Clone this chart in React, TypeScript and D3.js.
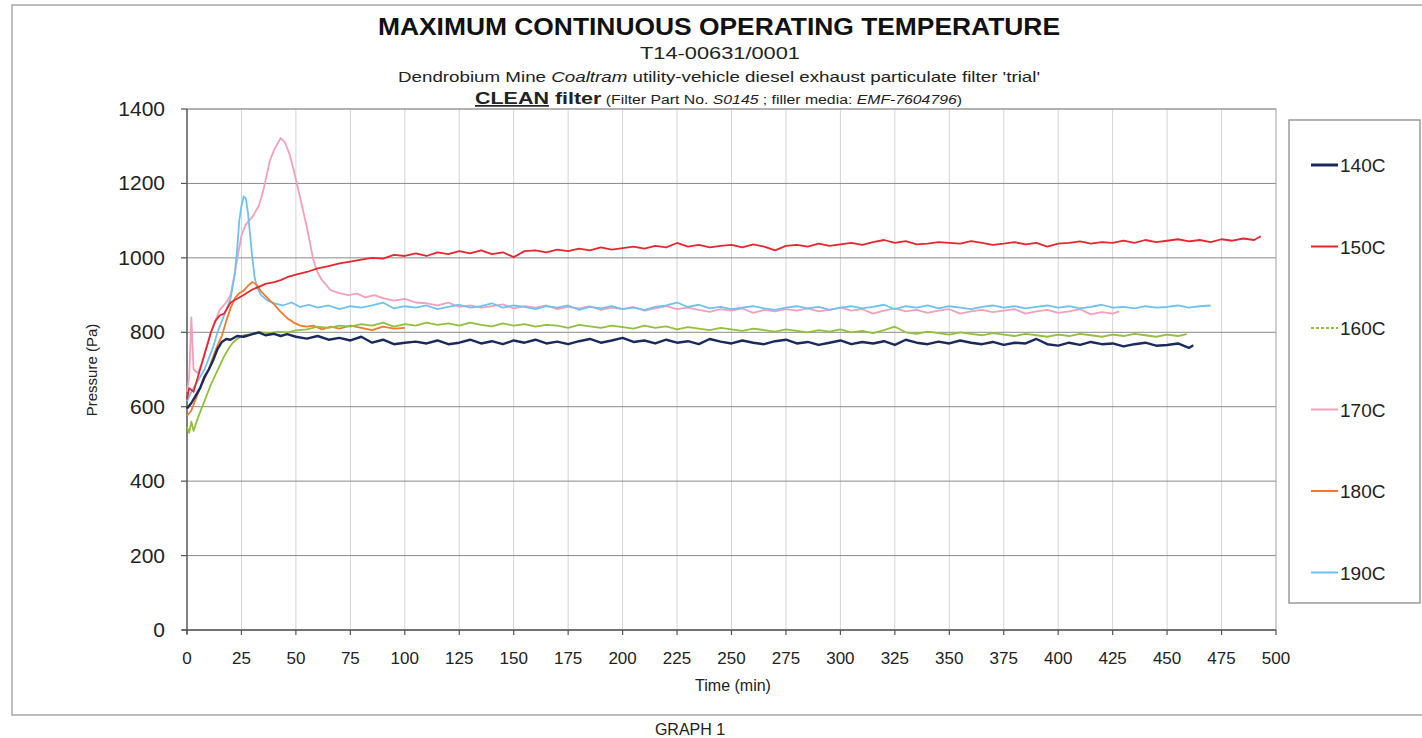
import * as d3 from 'd3'

// time (min), pressure (Pa)
const s140: [number, number][] = [
  [0, 595], [2, 610], [4, 630], [6, 650], [8, 680], [10, 700], [12, 725], [14, 755], [16, 774], [18, 782], [20, 780], [23, 790],
  [26, 788], [30, 795], [33, 800], [36, 792], [40, 796], [43, 790], [46, 795], [50, 788], [55, 783], [60, 790], [65, 780],
  [70, 785], [75, 778], [80, 788], [85, 772], [90, 780], [95, 768], [100, 772], [105, 775], [110, 770], [115, 778], [120, 768],
  [125, 772], [130, 780], [135, 770], [140, 776], [145, 768], [150, 778], [155, 772], [160, 780], [165, 770], [170, 775],
  [175, 768], [180, 776], [185, 782], [190, 772], [195, 778], [200, 785], [205, 774], [210, 778], [215, 770], [220, 780],
  [225, 772], [230, 776], [235, 768], [240, 782], [245, 775], [250, 770], [255, 778], [260, 772], [265, 768], [270, 776],
  [275, 780], [280, 770], [285, 774], [290, 766], [295, 772], [300, 778], [305, 768], [310, 774], [315, 770], [320, 776],
  [325, 766], [330, 780], [335, 772], [340, 768], [345, 775], [350, 770], [355, 778], [360, 772], [365, 768], [370, 774],
  [375, 766], [380, 772], [385, 770], [390, 782], [395, 768], [400, 764], [405, 772], [410, 766], [415, 774], [420, 768],
  [425, 770], [430, 762], [435, 768], [440, 772], [445, 764], [450, 766], [455, 770], [460, 758], [462, 765],
]

const s150: [number, number][] = [
  [0, 620], [1, 650], [3, 640], [5, 680], [7, 720], [9, 760], [11, 800], [13, 830], [15, 845], [17, 850], [20, 880], [23, 890],
  [26, 900], [30, 915], [33, 922], [36, 930], [40, 935], [43, 940], [46, 948], [50, 955], [55, 962], [60, 972], [65, 978],
  [70, 985], [75, 990], [80, 995], [85, 1000], [90, 998], [95, 1008], [100, 1005], [105, 1012], [110, 1005], [115, 1015],
  [120, 1010], [125, 1018], [130, 1012], [135, 1020], [140, 1010], [145, 1015], [150, 1002], [155, 1018], [160, 1020],
  [165, 1015], [170, 1022], [175, 1018], [180, 1025], [185, 1020], [190, 1028], [195, 1022], [200, 1026], [205, 1030],
  [210, 1025], [215, 1032], [220, 1028], [225, 1040], [230, 1030], [235, 1035], [240, 1028], [245, 1032], [250, 1035],
  [255, 1028], [260, 1036], [265, 1030], [270, 1020], [275, 1032], [280, 1035], [285, 1030], [290, 1038], [295, 1032],
  [300, 1036], [305, 1040], [310, 1035], [315, 1042], [320, 1048], [325, 1040], [330, 1045], [335, 1036], [340, 1038],
  [345, 1042], [350, 1040], [355, 1038], [360, 1045], [365, 1040], [370, 1035], [375, 1038], [380, 1042], [385, 1036],
  [390, 1040], [395, 1030], [400, 1038], [405, 1040], [410, 1044], [415, 1038], [420, 1042], [425, 1040], [430, 1046],
  [435, 1040], [440, 1048], [445, 1042], [450, 1046], [455, 1050], [460, 1044], [465, 1048], [470, 1042], [475, 1050],
  [480, 1046], [485, 1052], [490, 1048], [493, 1058],
]

const s160: [number, number][] = [
  [0, 545], [1, 530], [2, 560], [3, 535], [5, 570], [7, 600], [9, 630], [11, 660], [13, 685], [15, 710], [17, 735], [19, 755],
  [21, 772], [23, 782], [26, 792], [30, 795], [34, 800], [38, 798], [42, 802], [46, 800], [50, 805], [55, 808], [60, 815],
  [65, 812], [70, 818], [75, 815], [80, 822], [85, 818], [90, 826], [95, 815], [100, 822], [105, 818], [110, 826], [115, 820],
  [120, 824], [125, 818], [130, 826], [135, 820], [140, 816], [145, 824], [150, 818], [155, 822], [160, 815], [165, 820],
  [170, 818], [175, 812], [180, 820], [185, 816], [190, 812], [195, 818], [200, 814], [205, 810], [210, 818], [215, 812],
  [220, 816], [225, 808], [230, 814], [235, 810], [240, 806], [245, 812], [250, 808], [255, 804], [260, 810], [265, 806],
  [270, 802], [275, 808], [280, 804], [285, 800], [290, 806], [295, 802], [300, 808], [305, 800], [310, 804], [315, 798],
  [320, 806], [325, 815], [330, 800], [335, 796], [340, 802], [345, 798], [350, 794], [355, 800], [360, 796], [365, 792],
  [370, 798], [375, 794], [380, 790], [385, 796], [390, 792], [395, 788], [400, 794], [405, 790], [410, 796], [415, 792],
  [420, 788], [425, 794], [430, 790], [435, 796], [440, 792], [445, 788], [450, 794], [455, 790], [459, 795],
]

const s170: [number, number][] = [
  [0, 640], [1, 680], [2, 840], [3, 700], [5, 690], [7, 720], [9, 760], [11, 800], [13, 830], [15, 860], [18, 880], [20, 900],
  [22, 960], [23, 995], [25, 1060], [27, 1090], [30, 1110], [33, 1140], [35, 1180], [38, 1260], [40, 1290], [43, 1322],
  [45, 1310], [47, 1280], [49, 1236], [52, 1160], [55, 1083], [58, 995], [60, 960], [62, 940], [66, 913], [70, 905],
  [74, 900], [78, 904], [82, 894], [86, 900], [90, 892], [95, 885], [100, 890], [105, 880], [110, 878], [115, 872],
  [120, 880], [125, 868], [130, 872], [135, 866], [140, 870], [145, 875], [150, 864], [155, 870], [160, 866], [165, 872],
  [170, 862], [175, 868], [180, 864], [185, 870], [190, 860], [195, 866], [200, 862], [205, 868], [210, 858], [215, 864],
  [220, 870], [225, 862], [230, 866], [235, 860], [240, 855], [245, 862], [250, 858], [255, 864], [260, 852], [265, 860],
  [270, 856], [275, 862], [280, 858], [285, 864], [290, 856], [295, 860], [300, 866], [305, 858], [310, 862], [315, 850],
  [320, 858], [325, 864], [330, 856], [335, 860], [340, 852], [345, 858], [350, 862], [355, 850], [360, 856], [365, 860],
  [370, 854], [375, 858], [380, 862], [385, 850], [390, 856], [395, 860], [400, 852], [405, 856], [410, 862], [415, 848],
  [420, 854], [425, 850], [428, 856],
]

const s180: [number, number][] = [
  [0, 575], [2, 590], [4, 620], [6, 650], [8, 675], [10, 700], [12, 735], [14, 765], [16, 790], [18, 830], [20, 865],
  [22, 892], [24, 905], [26, 912], [28, 925], [30, 935], [32, 928], [34, 910], [36, 898], [38, 886], [40, 875], [43, 855],
  [46, 838], [49, 826], [52, 818], [55, 815], [58, 818], [62, 808], [66, 815], [70, 810], [75, 818], [80, 812], [85, 806],
  [90, 815], [95, 810], [100, 812],
]

const s190: [number, number][] = [
  [0, 615], [2, 640], [4, 660], [6, 680], [8, 700], [10, 730], [12, 760], [14, 800], [16, 830], [18, 860], [20, 890],
  [22, 960], [23, 1020], [24, 1100], [25, 1140], [26, 1165], [27, 1160], [28, 1120], [29, 1060], [30, 1000], [31, 950],
  [32, 922], [34, 900], [37, 885], [40, 878], [44, 872], [48, 880], [52, 868], [56, 874], [60, 866], [65, 872], [70, 862],
  [75, 870], [80, 866], [85, 872], [90, 880], [95, 864], [100, 870], [105, 866], [110, 872], [115, 862], [120, 868],
  [125, 874], [130, 866], [135, 870], [140, 878], [145, 866], [150, 872], [155, 868], [160, 862], [165, 870], [170, 866],
  [175, 872], [180, 860], [185, 868], [190, 864], [195, 870], [200, 862], [205, 866], [210, 860], [215, 868], [220, 872],
  [225, 880], [230, 868], [235, 874], [240, 864], [245, 868], [250, 862], [255, 866], [260, 870], [265, 864], [270, 860],
  [275, 866], [280, 870], [285, 864], [290, 868], [295, 860], [300, 866], [305, 870], [310, 864], [315, 868], [320, 874],
  [325, 862], [330, 870], [335, 866], [340, 872], [345, 864], [350, 870], [355, 866], [360, 862], [365, 868], [370, 872],
  [375, 866], [380, 870], [385, 864], [390, 868], [395, 872], [400, 866], [405, 870], [410, 864], [415, 868], [420, 874],
  [425, 866], [430, 868], [435, 864], [440, 870], [445, 866], [450, 868], [455, 872], [460, 866], [465, 870], [470, 872],
]

const seriesNames = ['140C', '150C', '160C', '170C', '180C', '190C']
const seriesData = [s140, s150, s160, s170, s180, s190]
const seriesColors = ['#1b2a5e', '#e8262e', '#93c03c', '#f3a0ba', '#f27a2c', '#6fc2f0']
const xTicks = [0, 25, 50, 75, 100, 125, 150, 175, 200, 225, 250, 275, 300, 325, 350, 375, 400, 425, 450, 475, 500]
const yTicks = [0, 200, 400, 600, 800, 1000, 1200, 1400]

const font = '"Liberation Sans", Arial, sans-serif'

export default function App() {
  const x = d3.scaleLinear().domain([0, 500]).range([187, 1276])
  const y = d3.scaleLinear().domain([0, 1400]).range([630, 109])
  const line = d3.line<[number, number]>()
    .x(d => x(d[0]))
    .y(d => y(d[1]))

  // draw order: lighter series behind, red and navy on top
  const order = [3, 5, 4, 2, 1, 0]

  return (
    <svg width={1422} height={738} style={{ position: 'absolute', left: 0, top: 0, background: '#fff' }}
      fontFamily={font}>
      <rect x={12} y={5} width={1420} height={710} fill="none" stroke="#a8a8a8" strokeWidth={1.5} />

      {/* titles */}
      <text x={378} y={35} fontSize={24} fontWeight="bold" fill="#111" textLength={682} lengthAdjust="spacingAndGlyphs">
        MAXIMUM CONTINUOUS OPERATING TEMPERATURE
      </text>
      <text x={640} y={59} fontSize={17} fill="#222" textLength={160} lengthAdjust="spacingAndGlyphs">T14-00631/0001</text>
      <text x={398} y={82} fontSize={15} fill="#222" textLength={642} lengthAdjust="spacingAndGlyphs">
        Dendrobium Mine <tspan fontStyle="italic">Coaltram</tspan> utility-vehicle diesel exhaust particulate filter 'trial'
      </text>
      <text x={475} y={104} fill="#222" textLength={487} lengthAdjust="spacingAndGlyphs">
        <tspan fontSize={17} fontWeight="bold" textDecoration="underline">CLEAN</tspan>
        <tspan fontSize={17} fontWeight="bold"> filter</tspan>
        <tspan fontSize={12.5}> (Filter Part No. </tspan>
        <tspan fontSize={12.5} fontStyle="italic">S0145</tspan>
        <tspan fontSize={12.5}> ; filler media: </tspan>
        <tspan fontSize={12.5} fontStyle="italic">EMF-7604796</tspan>
        <tspan fontSize={12.5}>)</tspan>
      </text>

      {/* grid */}
      {xTicks.slice(1, -1).map(t => (
        <line key={'vx' + t} x1={x(t)} x2={x(t)} y1={y(1400)} y2={y(0)} stroke="#d4d4d4" strokeWidth={1} />
      ))}
      {yTicks.slice(1).map(t => (
        <line key={'hy' + t} x1={x(0)} x2={x(500)} y1={y(t)} y2={y(t)} stroke="#8a8a8a" strokeWidth={1} />
      ))}
      <rect x={x(0)} y={y(1400)} width={x(500) - x(0)} height={y(0) - y(1400)} fill="none" stroke="#a0a0a0" strokeWidth={1} />

      {/* axes */}
      <line x1={x(0)} x2={x(0)} y1={y(1400)} y2={y(0) + 4} stroke="#555" strokeWidth={1.3} />
      <line x1={x(0) - 5} x2={x(500)} y1={y(0)} y2={y(0)} stroke="#555" strokeWidth={1.3} />
      {yTicks.map(t => (
        <g key={'yt' + t}>
          <line x1={x(0) - 6} x2={x(0)} y1={y(t)} y2={y(t)} stroke="#555" strokeWidth={1.2} />
          <text x={165} y={y(t) + 7} textAnchor="end" fontSize={21} fill="#222">{t}</text>
        </g>
      ))}
      {xTicks.map(t => (
        <g key={'xt' + t}>
          <line x1={x(t)} x2={x(t)} y1={y(0)} y2={y(0) + 5} stroke="#555" strokeWidth={1.2} />
          <text x={x(t)} y={664} textAnchor="middle" fontSize={17} fill="#222">{t}</text>
        </g>
      ))}
      <text transform="translate(97,370) rotate(-90)" textAnchor="middle" fontSize={15} fill="#222">Pressure (Pa)</text>
      <text x={733} y={691} textAnchor="middle" fontSize={16} fill="#222">Time (min)</text>

      {/* series */}
      {order.map(i => (
        <path key={seriesNames[i]} d={line(seriesData[i]) || ''} fill="none" stroke={seriesColors[i]}
          strokeWidth={i === 0 ? 2.4 : 1.8} strokeLinejoin="round" />
      ))}

      {/* legend */}
      <rect x={1289} y={120} width={131} height={483} fill="#fff" stroke="#8a8a8a" strokeWidth={1.3} />
      {seriesNames.map((name, i) => {
        const ly = 165 + i * 81.5
        return (
          <g key={'lg' + name}>
            <line x1={1311} x2={1338} y1={ly} y2={ly} stroke={seriesColors[i]} strokeWidth={i === 0 ? 3 : 2}
              strokeDasharray={i === 2 ? '3,2' : undefined} />
            <text x={1340} y={ly + 7} fontSize={19} fill="#222">{name}</text>
          </g>
        )
      })}

      <text x={690} y={735} textAnchor="middle" fontSize={16} fill="#222">GRAPH 1</text>
    </svg>
  )
}
